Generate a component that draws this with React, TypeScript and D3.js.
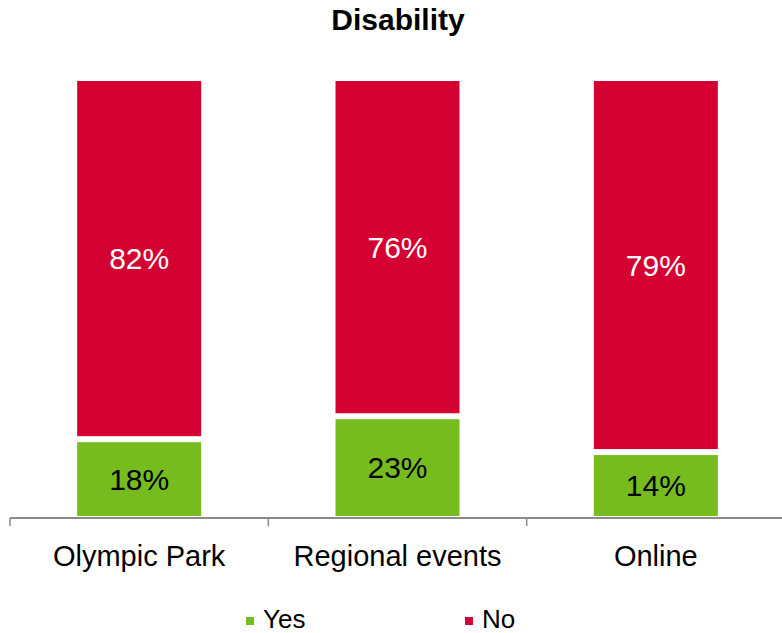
import React from "react";
import * as d3 from "d3";

const categories = ["Olympic Park", "Regional events", "Online"];
const yesValues = [18, 23, 14];
const noValues = [82, 76, 79];
const seriesNames = ["Yes", "No"];
const seriesColors = ["#77BC1F", "#D50032"];
const title = "Disability";

const W = 782;
const H = 633;
const FONT = "'Liberation Sans', Arial, sans-serif";

export default function App() {
  const x = d3.scaleBand<string>().domain(categories).range([10, 785]).paddingInner(0).paddingOuter(0);
  const y = d3.scaleLinear().domain([0, 1]).range([518, 80]);
  const barW = 124;

  const rows = categories.map((c, i) => {
    const total = yesValues[i] + noValues[i];
    return { cat: c, yes: yesValues[i], no: noValues[i], yf: yesValues[i] / total };
  });

  const ticks = [...categories.map((c) => x(c)!), 785];

  return (
    <svg
      width={W}
      height={H}
      style={{ position: "absolute", left: 0, top: 0, background: "#fff" }}
      fontFamily={FONT}
    >
      <text x={398} y={30} textAnchor="middle" fontWeight="bold" fontSize={30} fill="#000">
        {title}
      </text>
      {rows.map((r) => {
        const cx = x(r.cat)! + x.bandwidth() / 2;
        const bx = cx - barW / 2;
        const gTop = y(r.yf) + 3;
        const gBot = y(0) - 2;
        const rTop = y(1) + 1;
        const rBot = y(r.yf) - 3;
        return (
          <g key={r.cat}>
            <rect x={bx} y={gTop} width={barW} height={gBot - gTop} fill={seriesColors[0]} />
            <rect x={bx} y={rTop} width={barW} height={rBot - rTop} fill={seriesColors[1]} />
            <text
              x={cx}
              y={(gTop + gBot) / 2}
              dy="0.36em"
              textAnchor="middle"
              fontSize={30}
              fill="#000"
            >
              {r.yes}%
            </text>
            <text
              x={cx}
              y={(rTop + rBot) / 2}
              dy="0.36em"
              textAnchor="middle"
              fontSize={30}
              fill="#fff"
            >
              {r.no}%
            </text>
            <text x={cx} y={566} textAnchor="middle" fontSize={29} fill="#000">
              {r.cat}
            </text>
          </g>
        );
      })}
      <line x1={10} x2={782} y1={518} y2={518} stroke="#898989" strokeWidth={2} />
      {ticks.map((t, i) => (
        <line key={i} x1={t} x2={t} y1={518} y2={526} stroke="#898989" strokeWidth={1.5} />
      ))}
      <g>
        <rect x={246} y={617} width={8} height={8} fill={seriesColors[0]} />
        <text x={263} y={628} fontSize={26} fill="#000">{seriesNames[0]}</text>
        <rect x={465} y={617} width={8} height={8} fill={seriesColors[1]} />
        <text x={482} y={628} fontSize={26} fill="#000">{seriesNames[1]}</text>
      </g>
    </svg>
  );
}
